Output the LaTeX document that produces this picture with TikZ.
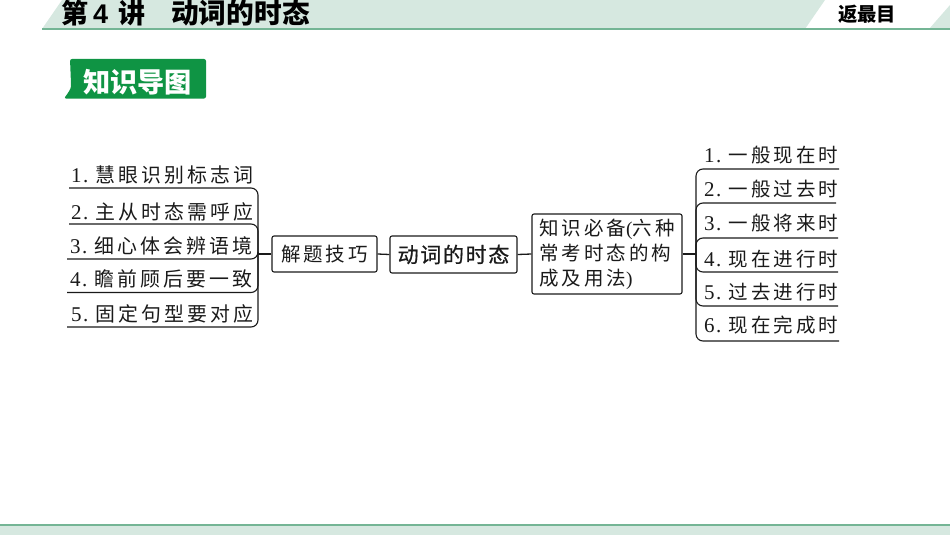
\documentclass[tikz,border=0pt]{standalone}
\usepackage{fontspec}
\setmainfont{Liberation Serif}
\newfontfamily\cjk{Noto Sans CJK SC}
\newfontfamily\cjkgap[LetterSpace=15]{Noto Sans CJK SC}
\newfontfamily\cjkgapb[LetterSpace=8,FakeBold=0.7]{Noto Sans CJK SC}
\newfontfamily\latin{Liberation Serif}
\newfontfamily\head{Liberation Sans}
\definecolor{band}{HTML}{D6E8E0}
\definecolor{bandline}{HTML}{74B595}
\definecolor{badge}{HTML}{0F9444}
\definecolor{ink}{HTML}{1A1A1A}
\tikzset{
  x=1pt,y=-1pt,
  item/.style={anchor=base west,inner sep=0pt,text=ink,font=\fontsize{19.5}{22}\selectfont},
  itemwide/.style={item,font=\fontsize{19.9}{22}\selectfont},
  box/.style={draw=ink,line width=1.1pt,rounded corners=2pt,inner sep=0pt,text=ink,align=left},
  tree/.style={draw=ink,line width=1.1pt,rounded corners=7pt},
  link/.style={draw=ink,line width=1.3pt},
  title/.style={anchor=base west,inner sep=0pt,text=black,font=\fontsize{27.7}{29}\selectfont\bfseries}
}
\newcommand{\itm}[2]{{\fontsize{21}{22}\selectfont\latin #1\hspace{1.5pt}.}\hspace{7.5pt}{\cjkgap #2}}
\begin{document}
\begin{tikzpicture}
\useasboundingbox (0,0) rectangle (950,535);
% header band
\fill[band] (42,29) -- (62,0) -- (825,0) -- (805,29) -- cycle;
\fill[band] (929,29) -- (950,5) -- (950,29) -- cycle;
\fill[bandline] (42,28) rectangle (950,30);
\begin{scope}
\clip (0,0) rectangle (950,535);
\node[title,font=\fontsize{27}{29}\selectfont\bfseries] (t1) at (61,23.5) {{\cjk 第}\hspace{5pt}{\head 4}\hspace{10pt}{\cjk 讲}};
\node[title] (t2) at (171,23.5) {\cjk 动词的时态};
\end{scope}
\node[anchor=base west,inner sep=0pt,font=\fontsize{19.3}{20}\selectfont\bfseries,text=black] (back) at (838,21.5) {\cjk 返最目};
% footer
\fill[band] (0,525) rectangle (950,535);
\fill[bandline] (0,524) rectangle (950,526);
% badge
\fill[badge,rounded corners=2pt] (70,59) -- (206,59) -- (206,98.5) -- (64,98.5) .. controls (68,93) and (71,89) .. (71,84) -- cycle;
\node[inner sep=0pt,text=white,font=\fontsize{27.2}{28}\selectfont\bfseries] (badgetext) at (137.5,82) {\cjk 知识导图};
% central boxes
\node[box,minimum width=105pt,minimum height=36pt,font=\fontsize{19.5}{22}\selectfont] (solve) at (324.5,254) {\cjkgap 解题技巧};
\node[box,minimum width=127pt,minimum height=37pt,font=\fontsize{21}{22}\selectfont] (main) at (453.5,254.5) {\cjkgapb 动词的时态};
\node[box,minimum width=150pt,minimum height=80pt,font=\fontsize{19.5}{25}\selectfont,align=left] (know) at (607,254) {\cjkgap 知识必备{\latin (}六种\\[0pt]\cjkgap 常考时态的构\\[0pt]\cjkgap 成及用法{\latin )}};
% left items
\node[itemwide] (a1) at (71,182) {\itm{1}{慧眼识别标志词}};
\node[itemwide] (a2) at (71,219) {\itm{2}{主从时态需呼应}};
\node[itemwide] (a3) at (70,253) {\itm{3}{细心体会辨语境}};
\node[itemwide] (a4) at (70,286) {\itm{4}{瞻前顾后要一致}};
\node[itemwide] (a5) at (71,321) {\itm{5}{固定句型要对应}};
\coordinate (la1) at (69,188); \coordinate (la2) at (69,224); \coordinate (la3) at (67,259); \coordinate (la4) at (67,292.5); \coordinate (la5) at (67,327);
\coordinate (ha1) at (258,188); \coordinate (ha2) at (258,224); \coordinate (ha3) at (258,259); \coordinate (ha4) at (258,292.5); \coordinate (ha5) at (258,327);
\coordinate (ham) at (258,254);
\draw[tree] (la1) -- (ha1) -- (ham) ;
\draw[tree] (la2) -- (ha2) -- (ham);
\draw[tree] (la3) -- (ha3) -- (ham);
\draw[tree] (la4) -- (ha4) -- (ham);
\draw[tree] (la5) -- (ha5) -- (ham);
\draw[link] (ham) -- (solve.west);
\draw[link] (solve.east) -- (main.west);
\draw[link] (main.east) -- (know.west);
% right items
\node[item] (b1) at (704,162) {\itm{1}{一般现在时}};
\node[item] (b2) at (704,196) {\itm{2}{一般过去时}};
\node[item] (b3) at (704,230) {\itm{3}{一般将来时}};
\node[item] (b4) at (704,266) {\itm{4}{现在进行时}};
\node[item] (b5) at (704,299) {\itm{5}{过去进行时}};
\node[item] (b6) at (704,332) {\itm{6}{现在完成时}};
\coordinate (lb1) at (839,169); \coordinate (lb2) at (836,203); \coordinate (lb3) at (838,238); \coordinate (lb4) at (838,272); \coordinate (lb5) at (838,306); \coordinate (lb6) at (839,341);
\coordinate (hb1) at (696,169); \coordinate (hb2) at (696,203); \coordinate (hb3) at (696,238); \coordinate (hb4) at (696,272); \coordinate (hb5) at (696,306); \coordinate (hb6) at (696,341);
\coordinate (hbm) at (696,254);
\draw[tree] (lb1) -- (hb1) -- (hbm);
\draw[tree] (lb2) -- (hb2) -- (hbm);
\draw[tree] (lb3) -- (hb3) -- (hbm);
\draw[tree] (lb4) -- (hb4) -- (hbm);
\draw[tree] (lb5) -- (hb5) -- (hbm);
\draw[tree] (lb6) -- (hb6) -- (hbm);
\draw[link] (know.east) -- (hbm);
\end{tikzpicture}
\end{document}
